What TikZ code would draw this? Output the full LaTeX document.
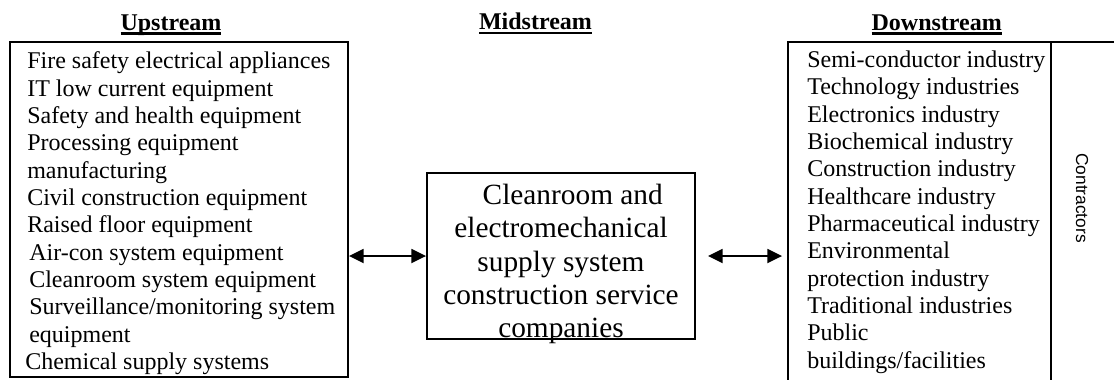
\documentclass[tikz,border=0pt]{standalone}
\usepackage{fontspec}
\setmainfont{Liberation Serif}
\newfontfamily\contrfont{Liberation Sans}
\usetikzlibrary{arrows.meta,fit}

% underline that sits close to the baseline
\newcommand\hdline[1]{\setbox0\hbox{#1}\rlap{\rule[-0.2em]{\wd0}{0.11em}}\box0}

\tikzset{
  listbox/.style={draw, line width=1.4pt, inner sep=0pt},
  listtext/.style={align=left, inner sep=0pt, anchor=north west, font=\fontsize{18}{20.5}\selectfont},
  midtext/.style={align=center, inner sep=0pt, font=\fontsize{22}{25}\selectfont},
  headtext/.style={anchor=base, inner sep=0pt, font=\bfseries\fontsize{18}{20}\selectfont},
  dblarrow/.style={{Triangle[length=11pt,width=10.5pt]}-{Triangle[length=11pt,width=10.5pt]}, line width=1.4pt}
}

\begin{document}
\begin{tikzpicture}[x=0.75pt,y=0.75pt,yscale=-1]
\useasboundingbox (0,0) rectangle (1114,379);
\clip (0,0) rectangle (1114,379);

% Text Node: headings
\node[headtext] (uphead) at (171,30) {\hdline{Upstream}};
\node[headtext] (midhead) at (535.5,29.5) {\hdline{Midstream}};
\node[headtext] (downhead) at (936.7,30) {\hdline{Downstream}};

%Shape: Rectangle (upstream)
\node[listbox, fit={(10,42) (348,377)}] (upbox) {};
\node[listtext] (uptext) at (27,51.5) {Fire safety electrical appliances\\
IT low current equipment\\
Safety and health equipment\\
Processing equipment\\
manufacturing\\
Civil construction equipment\\
Raised floor equipment\\
\hspace*{1.5pt}Air-con system equipment\\
\hspace*{1.5pt}Cleanroom system equipment\\
\hspace*{1.5pt}Surveillance/monitoring system\\
\hspace*{1.5pt}equipment\\
\hspace*{-1.5pt}Chemical supply systems};

%Shape: Rectangle (midstream)
\node[listbox, fit={(427,173) (695,339)}] (midbox) {};
\node[midtext] (midlabel) at (561,264) {\hspace*{0.8em}Cleanroom and\\
electromechanical\\
supply system\\
construction service\\
companies};

%Shape: Rectangle (downstream)
\node[listbox, fit={(788,42) (1051,400)}] (downbox) {};
\node[listbox, fit={(1051,42) (1140,400)}] (contrbox) {};
\node[listtext] (downtext) at (807,50.7) {Semi-conductor industry\\
Technology industries\\
Electronics industry\\
Biochemical industry\\
Construction industry\\
Healthcare industry\\
Pharmaceutical industry\\
Environmental\\
protection industry\\
Traditional industries\\
Public\\
buildings/facilities};
\node[rotate=-90, inner sep=0pt, font=\contrfont\fontsize{13}{15}\selectfont] (contr) at (1082,198) {Contractors};

%Straight Lines
\draw[dblarrow] (upbox.east |- midbox.west) -- (midbox.west);
\draw[dblarrow, shorten <=9pt, shorten >=3.75pt] (midbox.east) -- (downbox.west |- midbox.east);

\end{tikzpicture}
\end{document}
